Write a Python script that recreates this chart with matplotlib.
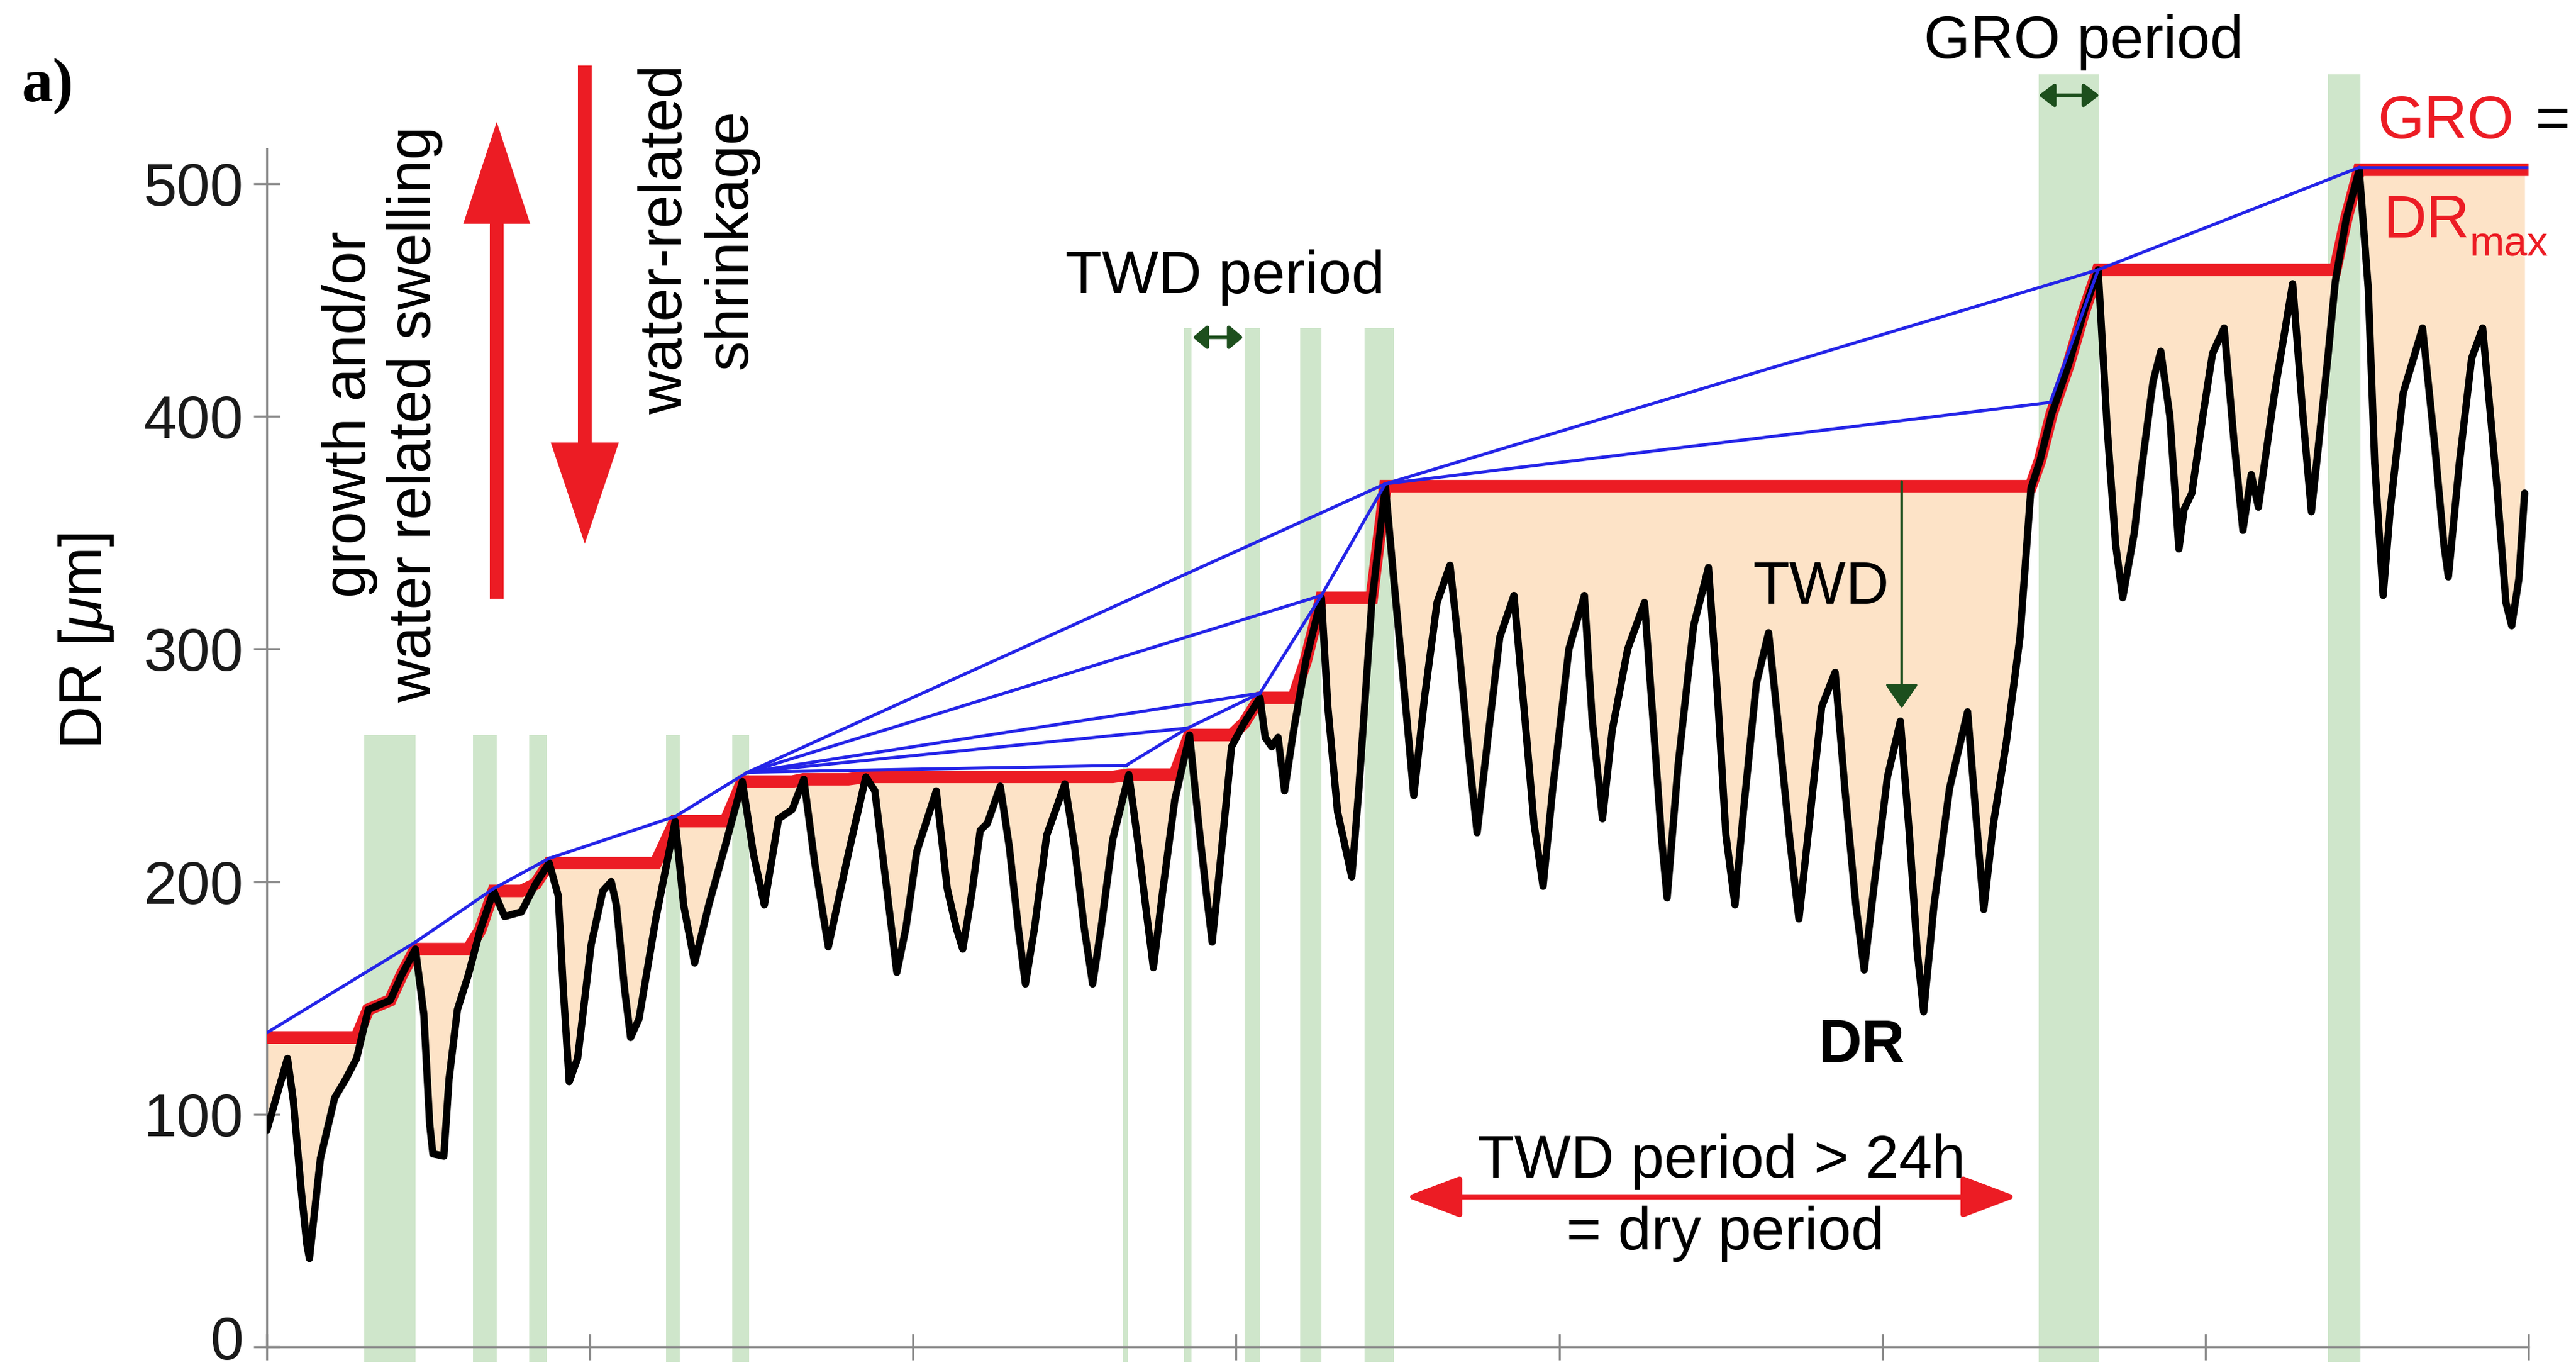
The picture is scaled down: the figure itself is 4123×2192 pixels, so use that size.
import numpy as np
import matplotlib
matplotlib.use("Agg")
import matplotlib.pyplot as plt
from matplotlib.patches import FancyArrowPatch, FancyArrow, ArrowStyle

plt.rcParams['font.family'] = ['Liberation Sans', 'DejaVu Sans']
plt.rcParams['mathtext.fontset'] = 'custom'
plt.rcParams['mathtext.rm'] = 'Liberation Sans'
plt.rcParams['mathtext.it'] = 'Liberation Sans:italic'
plt.rcParams['mathtext.bf'] = 'Liberation Sans:bold'

# ---------------- data ----------------
# time axis in days, stem radius change DR in micrometres
days = [0.00, 0.32, 0.41, 0.53, 0.62, 0.66, 0.83, 1.05, 1.22, 1.39, 1.57, 1.74, 1.91, 2.09, 2.30,
        2.43, 2.52, 2.57, 2.74, 2.82, 2.95, 3.12, 3.30, 3.51, 3.68, 3.94, 4.16, 4.37, 4.51, 4.59,
        4.68, 4.81, 5.02, 5.20, 5.33, 5.41, 5.54, 5.63, 5.76, 6.02, 6.32, 6.45, 6.62, 6.84, 7.10,
        7.36, 7.53, 7.70, 7.92, 8.13, 8.31, 8.48, 8.69, 9.00, 9.27, 9.41, 9.58, 9.75, 9.89, 10.06,
        10.36, 10.53, 10.67, 10.77, 10.91, 11.04, 11.15, 11.35, 11.49, 11.63, 11.74, 11.88, 12.07,
        12.35, 12.50, 12.65, 12.78, 12.91, 13.09, 13.34, 13.49, 13.62, 13.72, 13.86, 14.05, 14.28,
        14.42, 14.54, 14.63, 14.78, 14.93, 15.12, 15.37, 15.45, 15.55, 15.65, 15.75, 15.89, 16.08,
        16.32, 16.42, 16.57, 16.79, 16.90, 17.10, 17.31, 17.44, 17.58, 17.75, 17.92, 18.11, 18.31,
        18.45, 18.60, 18.73, 18.89, 19.08, 19.30, 19.47, 19.61, 19.75, 19.90, 20.15, 20.39, 20.51,
        20.67, 20.82, 21.06, 21.32, 21.45, 21.58, 21.67, 21.84, 22.08, 22.31, 22.45, 22.58, 22.72,
        22.85, 23.05, 23.24, 23.38, 23.58, 23.71, 23.87, 24.06, 24.27, 24.42, 24.59, 24.72, 24.88,
        25.08, 25.28, 25.42, 25.54, 25.64, 25.80, 26.04, 26.32, 26.43, 26.57, 26.72, 26.92, 27.13,
        27.30, 27.44, 27.62, 27.88, 28.12, 28.34, 28.48, 28.61, 28.72, 28.90, 29.01, 29.19, 29.31,
        29.45, 29.59, 29.67, 29.79, 29.96, 30.11, 30.29, 30.44, 30.58, 30.71, 30.82, 31.07, 31.35,
        31.51, 31.64, 31.89, 32.01, 32.18, 32.38, 32.52, 32.62, 32.75, 32.86, 33.06, 33.36, 33.54,
        33.69, 33.76, 33.93, 34.12, 34.29, 34.51, 34.65, 34.74, 34.85, 34.94]
dr = [93, 124, 106, 68, 44, 38, 81, 107, 115, 124, 145, 147, 149, 160, 171,
      143, 96, 83, 82, 115, 145, 160, 179, 196, 185, 187, 199, 208, 194, 153,
      114, 124, 173, 196, 200, 190, 153, 133, 141, 184, 226, 190, 165, 190, 216,
      243, 212, 190, 227, 231, 244, 208, 172, 212, 245, 239, 200, 161, 180, 213,
      239, 197, 180, 171, 195, 222, 225, 241, 215, 180, 156, 180, 220,
      242, 215, 180, 156, 180, 218, 246, 215, 185, 163, 195, 235, 263,
      225, 195, 174, 215, 258, 268, 279, 262, 258, 262, 239, 265, 295,
      322, 275, 230, 202, 240, 320, 370, 330, 289, 237, 280, 320, 336,
      300, 255, 221, 260, 305, 323, 270, 225, 198, 240, 300, 323, 270,
      227, 265, 300, 320, 270, 220, 193, 250, 310, 335, 280, 220, 190,
      230, 285, 307, 270, 215, 184, 225, 275, 290, 240, 190, 162, 200,
      245, 269, 220, 170, 144, 190, 240, 273, 235, 188, 225, 260, 305,
      369, 381, 401, 422, 445, 463, 395, 345, 322, 350, 377, 415, 428,
      400, 343, 360, 367, 400, 427, 438, 390, 351, 375, 361, 410, 457,
      400, 359, 424, 458, 485, 506, 455, 380, 323, 360, 410, 438, 390,
      345, 331, 380, 425, 438, 370, 320, 310, 330, 367]
gro_start = 133          # DRmax level at the start of the window
gro_end_day = 35.03      # red line runs slightly past the last DR value

# blue connecting lines: anchor points and the segments joining them
hull_days = [0.0, 2.30, 3.51, 4.37, 6.32, 7.44, 13.30, 14.25, 15.37, 16.32, 17.31, 27.60, 28.34, 32.38, 35.03]
hull_vals = [135, 174, 197, 210, 228, 247, 250, 266, 281, 323, 371, 406, 463, 507, 507]
hull_segments = [(0, 1), (1, 2), (2, 3), (3, 4), (4, 5),
                 (5, 6), (5, 7), (5, 8), (5, 9), (5, 10),
                 (6, 7), (7, 8), (8, 9), (9, 10),
                 (10, 11), (10, 12), (11, 12), (12, 13), (13, 14)]

# green (growth) periods: start day, end day, top value
band_start = [1.51, 3.19, 4.06, 6.18, 7.20, 13.25, 14.19, 15.13, 15.99, 16.99, 27.42, 31.90]
band_end = [2.30, 3.56, 4.33, 6.39, 7.46, 13.32, 14.31, 15.37, 16.32, 17.44, 28.36, 32.40]
band_top = [263, 263, 263, 263, 263, 250, 438, 438, 438, 438, 547, 547]
band_bottom = -6.5

yticks = [0, 100, 200, 300, 400, 500]
xticks = [0, 5, 10, 15, 20, 25, 30, 35]

# ---------------- colours ----------------
RED = '#ec1c24'
BLUE = '#2424e8'
PEACH = '#fde3c7'
GREEN = '#cfe6cb'
DKGREEN = '#1d4f1d'
AXC = '#8a8a8a'
LABC = '#1a1a1a'

# ---------------- figure ----------------
W, H, DPI = 4123, 2192, 300
fig = plt.figure(figsize=(W / DPI, H / DPI), dpi=DPI)
fig.patch.set_facecolor('white')
ax = fig.add_axes([427 / W, 1.64 / H, 3620 / W, 2186.7 / H])
ax.set_xlim(0, 35)
ax.set_ylim(-9.5, 578)
ax.patch.set_visible(False)

days_a = np.array(days, dtype=float)
dr_a = np.array(dr, dtype=float)
gro = np.maximum.accumulate(np.maximum(dr_a, gro_start))
gro_days = np.append(days_a, gro_end_day)
gro_line = np.append(gro, gro[-1])

# growth bands
for s, e, t in zip(band_start, band_end, band_top):
    ax.bar(s, t - band_bottom, width=e - s, bottom=band_bottom, align='edge',
           color=GREEN, linewidth=0, zorder=0)

# TWD fill
ax.fill_between(days_a, dr_a, gro, where=gro >= dr_a, color=PEACH, linewidth=0, zorder=1)

# GRO (DRmax) line
ax.plot(gro_days, gro_line, color=RED, lw=4.8, solid_joinstyle='miter', zorder=3)
# DR line
ax.plot(days_a, dr_a, color='black', lw=2.8, solid_joinstyle='round', solid_capstyle='round', zorder=4)
# blue lines
for i, j in hull_segments:
    ax.plot([hull_days[i], hull_days[j]], [hull_vals[i], hull_vals[j]], color=BLUE, lw=1.2, zorder=5)

# axes styling
for k in ('top', 'right'):
    ax.spines[k].set_visible(False)
ax.spines['bottom'].set_position(('data', 0))
ax.spines['bottom'].set_bounds(0, 35)
ax.spines['left'].set_bounds(0, 515)
for k in ('bottom', 'left'):
    ax.spines[k].set_color(AXC)
    ax.spines[k].set_linewidth(0.8)
ax.set_xticks(xticks)
ax.set_xticklabels([])
ax.set_yticks(yticks)
# the "0" label sits at the very bottom edge; it is drawn separately, nudged up a little
ax.set_yticklabels(['' if v == 0 else str(v) for v in yticks])
ax.tick_params(axis='both', direction='inout', length=10, width=0.8, color=AXC,
               labelsize=23, labelcolor=LABC, pad=4)
ax.annotate(str(yticks[0]), xy=(0, yticks[0]), xycoords='data', xytext=(-9, 3.5),
            textcoords='offset points', ha='right', va='center_baseline',
            fontsize=23, color=LABC, annotation_clip=False)

# ---------------- annotations in data coords ----------------
fs = 23
ax.text(14.83, 453, "TWD period", ha='center', va='baseline', fontsize=fs)
ax.text(28.11, 554, "GRO period", ha='center', va='baseline', fontsize=fs, clip_on=False)
ax.text(32.66, 519.6, "GRO", ha='left', va='baseline', fontsize=fs, color=RED)
ax.text(35.1, 519.6, "=", ha='left', va='baseline', fontsize=fs, color='black', clip_on=False)
ax.text(32.75, 477, "DR", ha='left', va='baseline', fontsize=fs, color=RED)
ax.text(34.09, 469, "max", ha='left', va='baseline', fontsize=16, color=RED)
ax.text(24.06, 319.5, "TWD", ha='center', va='baseline', fontsize=fs)
ax.text(24.68, 122.5, "DR", ha='center', va='baseline', fontsize=fs, fontweight='bold')
ax.text(22.51, 72.8, "TWD period > 24h", ha='center', va='baseline', fontsize=fs)
ax.text(22.57, 42, "= dry period", ha='center', va='baseline', fontsize=fs)

# arrows in data coords
ax.add_patch(FancyArrowPatch((17.62, 64.5), (27.09, 64.5),
                             arrowstyle=ArrowStyle('<|-|>', head_length=18, head_width=6.8),
                             mutation_scale=1, lw=2.0, color=RED, shrinkA=0, shrinkB=0, zorder=6))
ax.add_patch(FancyArrowPatch((25.3, 372), (25.3, 274.5),
                             arrowstyle=ArrowStyle('-|>', head_length=8, head_width=5.5),
                             mutation_scale=1, lw=1.0, color=DKGREEN, shrinkA=0, shrinkB=0, zorder=6))
ax.add_patch(FancyArrowPatch((14.33, 434), (15.11, 434),
                             arrowstyle=ArrowStyle('<|-|>', head_length=4.5, head_width=3.8),
                             mutation_scale=1, lw=1.4, color=DKGREEN, shrinkA=0, shrinkB=0, zorder=6))
ax.add_patch(FancyArrowPatch((27.42, 538), (28.36, 538),
                             arrowstyle=ArrowStyle('<|-|>', head_length=5, head_width=3.8),
                             mutation_scale=1, lw=1.4, color=DKGREEN, shrinkA=0, shrinkB=0, zorder=6))

# ---------------- figure-level annotations ----------------
def fx(px):
    return px / W

def fy(py):
    return 1 - py / H

fig.text(fx(612), fy(663), "growth and/or\nwater related swelling", rotation=90,
         ha='center', va='center', multialignment='center', fontsize=fs, linespacing=1.2)
fig.text(fx(1118), fy(383), "water-related\nshrinkage", rotation=90,
         ha='center', va='center', multialignment='center', fontsize=fs, linespacing=1.2)
fig.text(fx(138), fy(1026), r"DR [$\mu$m]", rotation=90, ha='center', va='center', fontsize=fs)
fig.text(fx(35), fy(162), "a)", ha='left', va='baseline', fontsize=24, fontweight='bold',
         family=['Liberation Serif', 'DejaVu Serif'])

tr = fig.dpi_scale_trans
fig.add_artist(FancyArrow(795 / DPI, (H - 958) / DPI, 0, (958 - 195) / DPI,
                          width=22 / DPI, head_width=107 / DPI, head_length=163 / DPI,
                          length_includes_head=True, color=RED, lw=0, transform=tr))
fig.add_artist(FancyArrow(936 / DPI, (H - 105) / DPI, 0, -(870 - 105) / DPI,
                          width=22 / DPI, head_width=109 / DPI, head_length=162 / DPI,
                          length_includes_head=True, color=RED, lw=0, transform=tr))

fig.savefig("out.png", dpi=DPI, facecolor='white')
